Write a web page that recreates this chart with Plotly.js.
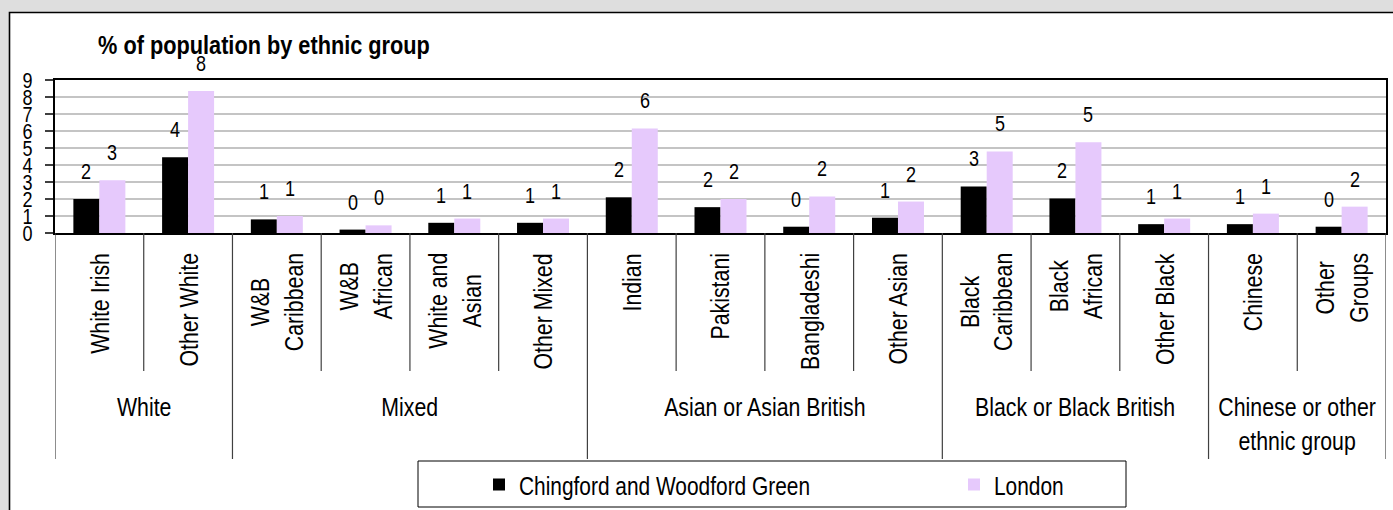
<!DOCTYPE html>
<html><head><meta charset="utf-8">
<script src="https://cdn.plot.ly/plotly-3.0.1.min.js"></script>
<style>html,body{margin:0;padding:0;background:#dedede;overflow:hidden}</style>
</head><body>
<div id="chart" style="width:1393px;height:510px"></div>
<script>
// ---- data ----
const titleText = "% of population by ethnic group";
const groups = ["White", "Mixed", "Asian or Asian British", "Black or Black British", "Chinese or other<br>ethnic group"];
const groupSizes = [2, 4, 4, 3, 2];
const categories = ["White Irish", "Other White", "W&B<br>Caribbean", "W&B<br>African", "White and<br>Asian", "Other Mixed",
  "Indian", "Pakistani", "Bangladeshi", "Other Asian", "Black<br>Caribbean", "Black<br>African", "Other Black",
  "Chinese", "Other<br>Groups"];
const seriesNames = ["Chingford and Woodford Green", "London"];
const chingford = [2.0, 4.45, 0.8, 0.2, 0.6, 0.6, 2.1, 1.52, 0.37, 0.9, 2.74, 2.03, 0.52, 0.52, 0.37];
const london = [3.1, 8.35, 1.0, 0.45, 0.85, 0.85, 6.15, 2.0, 2.15, 1.85, 4.8, 5.34, 0.85, 1.14, 1.55];
const yTicks = [0, 1, 2, 3, 4, 5, 6, 7, 8, 9];

// ---- styling / layout helpers ----
const FONT = '"Liberation Sans", Arial, sans-serif';
const NARROW = 0.82;   // horizontal compression to imitate a narrow face
const W = 1393, H = 510, ML = 55, MR = 7, MT = 80, MB = 277;
const PW = W - ML - MR, PH = H - MT - MB;
const px = x => (x - ML) / PW;          // pixel x -> paper
const py = y => (H - MB - y) / PH;      // pixel y -> paper
const colors = ["#000000", "#e6c9fc"];
const series = [chingford, london];
const idx = categories.map((_, i) => i);

const traces = series.map((vals, s) => ({
  type: "bar", x: idx, y: vals, name: seriesNames[s],
  marker: {color: colors[s], line: {width: 0}}, hoverinfo: "skip"
}));

const annotations = [];
// data labels
series.forEach((vals, s) => vals.forEach((v, i) => annotations.push({
  x: i, y: v, xref: "x", yref: "y", text: String(Math.round(v)), showarrow: false,
  xshift: s === 0 ? -13 : 13, yshift: 13, yanchor: "bottom", xanchor: "center",
  font: {family: FONT, size: 22, color: "#000"}
})));
// category labels
categories.forEach((c, i) => annotations.push({
  x: i, y: py(251), xref: "x", yref: "paper", text: c, showarrow: false, textangle: -90,
  xanchor: "center", yanchor: "top", align: "center",
  font: {family: FONT, size: 26, color: "#000"}
}));
// group labels and dividers
const shapes = [];
let start = 0;
const groupBounds = [0];
groups.forEach((g, k) => {
  const end = start + groupSizes[k];
  annotations.push({
    x: (start + end - 1) / 2, y: py(390), xref: "x", yref: "paper", text: g, showarrow: false,
    xanchor: "center", yanchor: "top", align: "center",
    font: {family: FONT, size: 26, color: "#000"}
  });
  groupBounds.push(end);
  start = end;
});
for (let b = 0; b <= categories.length; b++) {
  const isGroup = groupBounds.includes(b);
  shapes.push({type: "line", xref: "x", yref: "paper", x0: b - 0.5, x1: b - 0.5,
    y0: 0, y1: isGroup ? py(459) : py(371), line: {color: "#404040", width: 1.2}});
}
// outer white frame
shapes.push({type: "rect", xref: "paper", yref: "paper", layer: "below",
  x0: px(9.5), x1: px(1420), y0: py(12.5), y1: py(540),
  fillcolor: "#ffffff", line: {color: "#000", width: 1.6}});
// legend box
shapes.push({type: "rect", xref: "paper", yref: "paper",
  x0: px(418), x1: px(1126), y0: py(461), y1: py(507),
  fillcolor: "rgba(0,0,0,0)", line: {color: "#000", width: 1}});
// title
annotations.push({x: px(96), y: py(28), xref: "paper", yref: "paper", text: "<b>" + titleText + "</b>",
  showarrow: false, xanchor: "left", yanchor: "top",
  font: {family: FONT, size: 26.5, color: "#000"}});

const layout = {
  width: W, height: H, margin: {l: ML, r: MR, t: MT, b: MB, pad: 0, autoexpand: false},
  paper_bgcolor: "#dedede", plot_bgcolor: "#ffffff",
  barmode: "group", bargap: 0.414, bargroupgap: 0,
  showlegend: true,
  legend: {orientation: "h", x: px(479), xanchor: "left", y: py(485), yanchor: "middle",
    bgcolor: "rgba(0,0,0,0)", borderwidth: 0, entrywidth: 430, entrywidthmode: "pixels",
    font: {family: FONT, size: 25.5, color: "#000"}, traceorder: "normal"},
  xaxis: {range: [-0.5, categories.length - 0.5], showticklabels: false, ticks: "",
    showgrid: false, zeroline: false, showline: true, linecolor: "#000", linewidth: 2, mirror: true, fixedrange: true},
  yaxis: {range: [0, 9], tickvals: yTicks, ticktext: yTicks.map(String), ticks: "outside", ticklen: 8,
    tickcolor: "#404040", tickwidth: 1.2, ticklabelstandoff: 8,
    showgrid: true, gridcolor: "#c4c4c4", gridwidth: 1.2, zeroline: false,
    showline: true, linecolor: "#000", linewidth: 2, mirror: true,
    tickfont: {family: FONT, size: 22, color: "#000"}, fixedrange: true},
  annotations: annotations, shapes: shapes,
  font: {family: FONT}
};

// compress every text horizontally (in its own baseline direction) around its anchor
function narrowTexts(gd, k) {
  gd.querySelectorAll("svg text").forEach(t => {
    if (!t.textContent.trim()) return;
    const bb = t.getBBox();
    const anchor = t.getAttribute("text-anchor") || "start";
    const rotG = t.closest('g[transform*="rotate(-90"]');
    let ax;
    if (rotG) ax = bb.x + bb.width;
    else if (anchor === "middle") ax = bb.x + bb.width / 2;
    else if (anchor === "end") ax = bb.x + bb.width;
    else ax = bb.x;
    const isTitle = t.textContent === titleText;
    if (isTitle) ax = bb.x;
    const prev = t.getAttribute("transform") || "";
    t.setAttribute("transform", (prev + " translate(" + ax + ",0) scale(" + k + ",1) translate(" + (-ax) + ",0)").trim());
  });
}
Plotly.newPlot("chart", traces, layout, {staticPlot: true, displayModeBar: false})
  .then(gd => narrowTexts(gd, NARROW));
</script>
</body></html>
